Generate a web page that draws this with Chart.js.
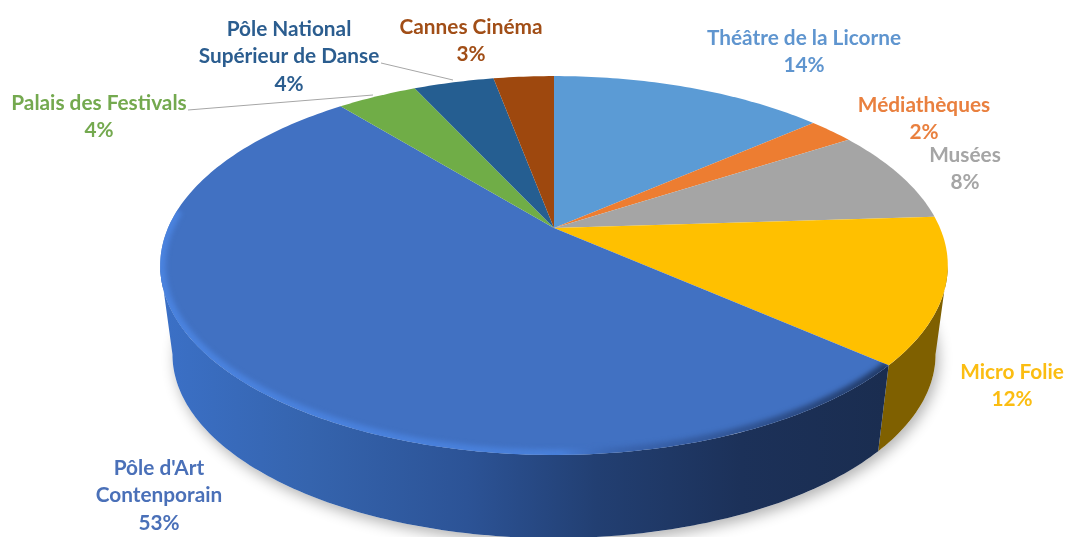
<!DOCTYPE html>
<html>
<head>
<meta charset="utf-8">
<title>Répartition</title>
<script src="https://cdn.jsdelivr.net/npm/chart.js@4/dist/chart.umd.min.js"></script>
<style>
  html,body{margin:0;padding:0;background:#fff;overflow:hidden}
  canvas{display:block;filter:blur(.35px)}
</style>
</head>
<body>
<canvas id="pie" width="1065" height="537"></canvas>
<script>
// slices, clockwise from the top
const categories = [
  ["Théâtre de la Licorne"],
  ["Médiathèques"],
  ["Musées"],
  ["Micro Folie"],
  ["Pôle d'Art","Contenporain"],
  ["Palais des Festivals"],
  ["Pôle National","Supérieur de Danse"],
  ["Cannes Cinéma"]
];
const shares = [13.7, 2.3, 8, 12.4, 52.6, 4, 4, 3];

const topColors  = ['#5b9bd5','#ed7d31','#a5a5a5','#ffc000','#4171c2','#70ad47','#255e91','#9e480e'];
const wallColors = ['#2e4e6b','#773f18','#5f5f5f','#7f6000','#1f3864','#38572a','#132f49','#4f2407'];
const textColors = ['#5f95cf','#e9803f','#a5a5a5','#fbbd12','#4a70b8','#74a94f','#2b5d8f','#a14e17'];

// label centres (x, first line middle), in page pixels
const labelPos = [[804,38],[924,105],[965,155],[1012,372],[159,468],[99,103],[289,29],[471,27]];
const lineHeight = 27.5;
const leaders = [[[188,110],[373,95]],[[381,63],[453,80]]];

// tilted disc: unit circle to page pixels, with a bit of perspective
const top3d = {cx:554, cy:228, a:386, b:182, c:0.198};
const bot3d = {cx:554, cy:318, a:374, b:176.5, c:0.198};
const project = (p, t) => {
  const u = Math.cos(t), v = Math.sin(t), w = 1 - p.c*v;
  return [p.cx + p.a*u/w, p.cy + p.b*v/w];
};

// only this part of the rim faces the viewer
const frontFrom = Math.asin(top3d.c);
const frontTo = Math.PI - frontFrom;

function arcPath(ctx, p, from, to, move){
  const n = Math.max(2, Math.ceil(Math.abs(to-from)*60));
  for(let i=0;i<=n;i++){
    const q = project(p, from + (to-from)*i/n);
    if(i===0 && move) ctx.moveTo(q[0],q[1]); else ctx.lineTo(q[0],q[1]);
  }
}

const disc3d = {
  id:'disc3d',
  beforeDatasetsDraw(chart){
    const ctx = chart.ctx;
    const arcs = chart.getDatasetMeta(0).data;

    // soft shadow under the disc
    ctx.save();
    ctx.shadowColor = 'rgba(0,0,0,.3)';
    ctx.shadowBlur = 14;
    ctx.shadowOffsetX = 3;
    ctx.shadowOffsetY = 5;
    ctx.fillStyle = '#fff';
    ctx.beginPath();
    arcPath(ctx, bot3d, 0, Math.PI*2, true);
    ctx.fill();
    ctx.restore();

    // side walls
    arcs.forEach((arc,i)=>{
      const from = Math.max(arc.startAngle, frontFrom);
      const to = Math.min(arc.endAngle, frontTo);
      if(to <= from) return;
      ctx.beginPath();
      arcPath(ctx, top3d, from, to, true);
      arcPath(ctx, bot3d, to, from, false);
      ctx.closePath();
      if(i===4){
        const g = ctx.createLinearGradient(165,0,885,0);
        g.addColorStop(0,'#3b70c6');
        g.addColorStop(.2,'#3564ae');
        g.addColorStop(.42,'#2c5396');
        g.addColorStop(.6,'#223f72');
        g.addColorStop(.8,'#1c3159');
        g.addColorStop(1,'#1a2d50');
        ctx.fillStyle = g;
      }else ctx.fillStyle = wallColors[i];
      ctx.fill();
    });

    // top face
    arcs.forEach((arc,i)=>{
      ctx.beginPath();
      ctx.moveTo(top3d.cx, top3d.cy);
      arcPath(ctx, top3d, arc.startAngle, arc.endAngle, false);
      ctx.closePath();
      ctx.fillStyle = topColors[i];
      ctx.fill();
    });

    // bevel on the big slice, front rim only
    const big = arcs[4];
    ctx.save();
    ctx.beginPath();
    ctx.moveTo(top3d.cx, top3d.cy);
    arcPath(ctx, top3d, big.startAngle, big.endAngle, false);
    ctx.closePath();
    ctx.clip();
    const bevel = ctx.createLinearGradient(165,0,885,0);
    bevel.addColorStop(0,'rgba(76,134,228,.85)');
    bevel.addColorStop(.55,'rgba(76,134,228,.7)');
    bevel.addColorStop(.66,'rgba(40,70,130,.35)');
    bevel.addColorStop(1,'rgba(26,45,80,.8)');
    ctx.filter = 'blur(2.5px)';
    ctx.strokeStyle = bevel;
    ctx.lineWidth = 11;
    ctx.beginPath();
    arcPath(ctx, top3d, big.startAngle, Math.PI + 0.1, true);
    ctx.stroke();
    ctx.restore();

    return false;
  },
  // datasets are skipped above, so the labels go here
  afterDraw(chart){
    const ctx = chart.ctx;
    ctx.save();
    ctx.strokeStyle = '#a6a6a6';
    ctx.lineWidth = 1;
    leaders.forEach(l=>{
      ctx.beginPath();
      ctx.moveTo(l[0][0],l[0][1]);
      ctx.lineTo(l[1][0],l[1][1]);
      ctx.stroke();
    });
    ctx.font = 'bold 20.8px Lato';
    ctx.textAlign = 'center';
    ctx.textBaseline = 'middle';
    categories.forEach((lines,i)=>{
      ctx.fillStyle = textColors[i];
      const all = lines.concat(Math.round(shares[i]) + '%');
      all.forEach((t,k)=> ctx.fillText(t, labelPos[i][0], labelPos[i][1] + k*lineHeight));
    });
    ctx.restore();
  }
};

new Chart(document.getElementById('pie'), {
  type:'pie',
  data:{
    labels:categories.map(c=>c.join(' ')),
    datasets:[{data:shares, backgroundColor:topColors, borderWidth:0}]
  },
  options:{
    responsive:false,
    animation:false,
    plugins:{legend:{display:false}, tooltip:{enabled:false}}
  },
  plugins:[disc3d]
});
</script>
</body>
</html>
